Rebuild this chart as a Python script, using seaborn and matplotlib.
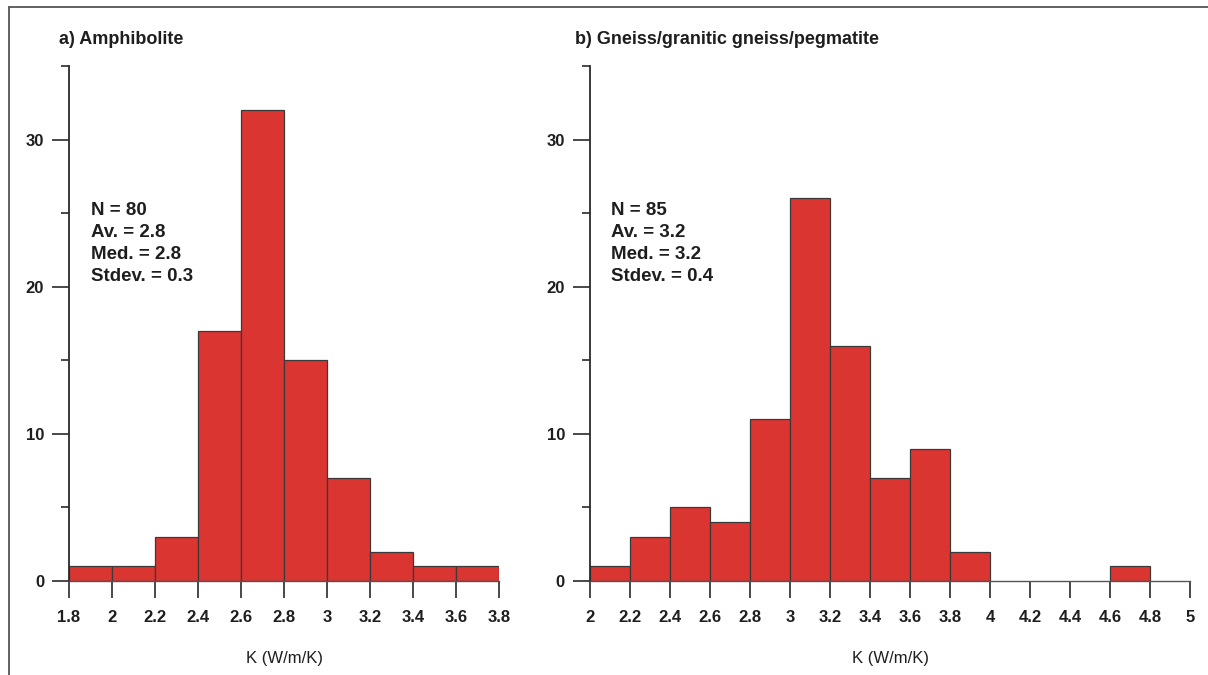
import matplotlib
matplotlib.use("Agg")
import matplotlib.pyplot as plt
from matplotlib.lines import Line2D
from matplotlib.ticker import FixedLocator
import seaborn as sns

# Thermal conductivity histograms (counts per 0.2 W/m/K bin)
amph_edges = [1.8, 2.0, 2.2, 2.4, 2.6, 2.8, 3.0, 3.2, 3.4, 3.6, 3.8]
amph_counts = [1, 1, 3, 17, 32, 15, 7, 2, 1, 1]
amph_ticks = ["1.8", "2", "2.2", "2.4", "2.6", "2.8", "3", "3.2", "3.4", "3.6", "3.8"]
amph_stats = ["N = 80", "Av. = 2.8", "Med. = 2.8", "Stdev. = 0.3"]

gneiss_edges = [2.0, 2.2, 2.4, 2.6, 2.8, 3.0, 3.2, 3.4, 3.6, 3.8, 4.0,
                4.2, 4.4, 4.6, 4.8, 5.0]
gneiss_counts = [1, 3, 5, 4, 11, 26, 16, 7, 9, 2, 0, 0, 0, 1, 0]
gneiss_ticks = ["2", "2.2", "2.4", "2.6", "2.8", "3", "3.2", "3.4", "3.6",
                "3.8", "4", "4.2", "4.4", "4.6", "4.8", "5"]
gneiss_stats = ["N = 85", "Av. = 3.2", "Med. = 3.2", "Stdev. = 0.4"]

titles = ["a) Amphibolite", "b) Gneiss/granitic gneiss/pegmatite"]
xlabel = "K (W/m/K)"
y_major = [0, 10, 20, 30]

sns.set_theme(style="white")
plt.rcParams["font.family"] = ["Liberation Sans", "DejaVu Sans"]

W, H = 1208, 675
fig = plt.figure(figsize=(W / 100, H / 100), dpi=100)

BAR = "#db3532"
EDGE = "#3a3a3a"
TXT = "#1e1e1e"


def px_rect(x0, x1, ytop, ybot):
    return [x0 / W, 1 - ybot / H, (x1 - x0) / W, (ybot - ytop) / H]


panels = [
    (px_rect(69, 499, 66, 581), amph_edges, amph_counts, amph_ticks, amph_stats, 59, 91),
    (px_rect(590, 1190, 66, 581), gneiss_edges, gneiss_counts, gneiss_ticks, gneiss_stats, 575, 611),
]

for i, (rect, edges, counts, ticks, stats, tx, sx) in enumerate(panels):
    ax = fig.add_axes(rect)
    centers = [(a + b) / 2 for a, b in zip(edges[:-1], edges[1:])]
    sns.histplot(x=centers, weights=counts, bins=edges, ax=ax,
                 color=BAR, alpha=1, edgecolor=EDGE, linewidth=0.9)
    # empty bins leave only the thin baseline visible
    for p in ax.patches:
        if p.get_height() == 0:
            p.set_edgecolor("none")
    ax.set_xlim(edges[0], edges[-1])
    ax.set_ylim(0, 35)
    ax.set_ylabel("")

    for s in ["top", "right"]:
        ax.spines[s].set_visible(False)
    ax.spines["left"].set_color("#2a2a2a")
    ax.spines["left"].set_linewidth(1.3)
    ax.spines["bottom"].set_color("#555555")
    ax.spines["bottom"].set_linewidth(1.0)

    ax.xaxis.set_major_locator(FixedLocator(edges))
    ax.set_xticklabels(ticks)
    ax.yaxis.set_major_locator(FixedLocator(y_major))
    ax.yaxis.set_minor_locator(FixedLocator([5, 15, 25, 35]))
    ax.tick_params(axis="x", which="major", direction="out", length=12,
                   width=1.2, color="#2a2a2a", pad=9, labelsize=12,
                   labelcolor=TXT, bottom=True)
    ax.tick_params(axis="y", which="major", direction="out", length=12,
                   width=1.2, color="#2a2a2a", pad=6, labelsize=12,
                   labelcolor=TXT, left=True)
    ax.tick_params(axis="y", which="minor", direction="out", length=6,
                   width=1.2, color="#2a2a2a", left=True)
    for lab in ax.get_xticklabels() + ax.get_yticklabels():
        lab.set_fontweight("bold")

    ax.set_xlabel(xlabel, fontsize=12, color=TXT)
    ax.xaxis.set_label_coords(0.5, (581 - 658) / 515)
    ax.xaxis.label.set_va("center")

    fig.text(tx / W, 1 - 40 / H, titles[i], fontsize=13, fontweight="bold",
             color=TXT, ha="left", va="center")
    for k, line in enumerate(stats):
        fig.text(sx / W, 1 - (211 + k * 21.7) / H, line, fontsize=13.5,
                 fontweight="bold", color=TXT, ha="left", va="center")

# thin frame along the top and left edge of the figure
fig.add_artist(Line2D([9 / W, 1], [1 - 7 / H, 1 - 7 / H], color="#555555",
                      lw=1.3, transform=fig.transFigure))
fig.add_artist(Line2D([9 / W, 9 / W], [0, 1 - 7 / H], color="#555555",
                      lw=1.3, transform=fig.transFigure))

fig.savefig("out.png", dpi=100, facecolor="white")
